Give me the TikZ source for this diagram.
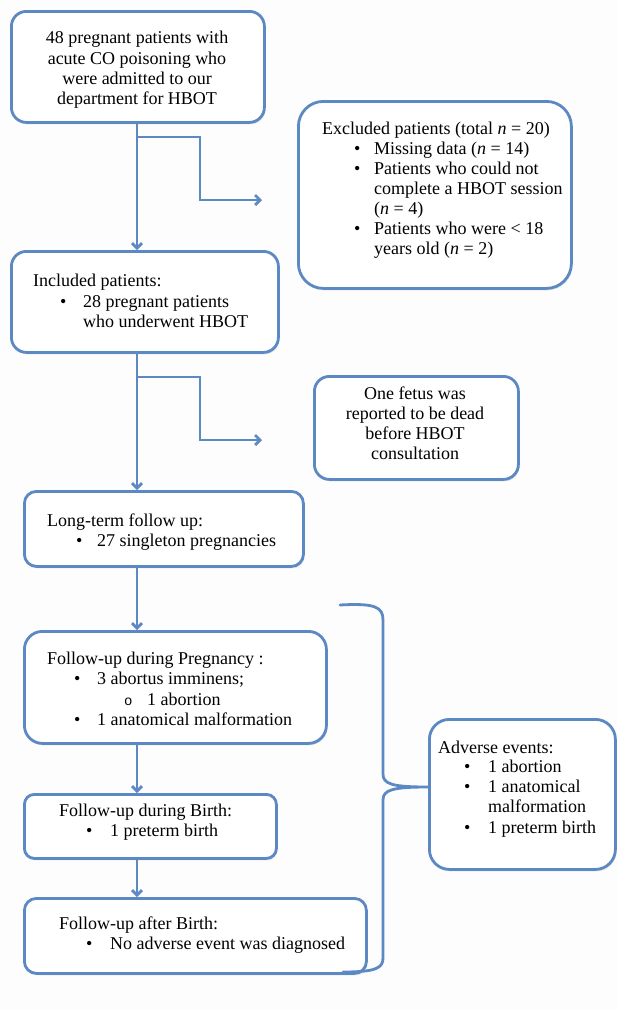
\documentclass[tikz,border=0pt]{standalone}
\usepackage{fontspec}
\setmainfont{Liberation Serif}
\newfontfamily\monof{Liberation Mono}
\usetikzlibrary{arrows.meta,shadows}
\definecolor{bl}{RGB}{92,136,196}
\definecolor{bg}{RGB}{253,253,253}
\newcommand\Lbox[6]{\node[box,rounded corners=#6pt,minimum width=#4pt,minimum height=#5pt,anchor=north west] (#1) at (#2,#3) {};}
\newcommand\Lline[4]{\node[ln] (#1) at (#2,#3) {#4};}
\newcommand\Cline[4]{\node[cl] (#1) at (#2,#3) {#4};}
\newcommand\Bul{\textbullet}
\newcommand\Sub{{\monof\fontsize{14}{14}\selectfont o}}
\begin{document}
\begin{tikzpicture}[x=1pt,y=-1pt,
  box/.style={draw=bl,line width=2.8pt,fill=white,
    drop shadow={shadow xshift=1pt,shadow yshift=-2pt,opacity=0.2}},
  ln/.style={anchor=base west,inner sep=0pt,font=\fontsize{18}{20}\selectfont},
  cl/.style={anchor=base,inner sep=0pt,font=\fontsize{18}{20}\selectfont},
  arr/.style={draw=bl,line width=2.8pt,-{Straight Barb[length=5pt,width=10pt]}},
  con/.style={draw=bl,line width=2.8pt,line cap=round,line join=round}]
\fill[bg] (0,0) rectangle (617,1010);
\useasboundingbox (0,0) rectangle (617,1010);

% boxes
\Lbox{top}{10}{10}{253}{111}{15}
\Lbox{exc}{297}{100}{273}{187}{25}
\Lbox{inc}{10}{250}{267}{101}{15}
\Lbox{fet}{313}{375}{204}{103}{15}
\Lbox{lt}{23}{490}{279}{75}{12}
\Lbox{prg}{23}{630}{302}{112}{18}
\Lbox{brt}{23}{793}{252}{64}{10}
\Lbox{aft}{23}{897}{342}{75}{12}
\Lbox{adv}{428}{718}{186}{150}{20}

% top box text
\Cline{t1}{137}{43}{48 pregnant patients with}
\Cline{t2}{137}{64}{acute CO poisoning who}
\Cline{t3}{137}{84}{were admitted to our}
\Cline{t4}{137}{104}{department for HBOT}

% excluded
\Lline{e0}{322}{134}{Excluded patients (total \textit{n} = 20)}
\Lline{e1b}{354}{154}{\Bul}
\Lline{e1}{374}{154}{Missing data (\textit{n} = 14)}
\Lline{e2b}{354}{174}{\Bul}
\Lline{e2}{374}{174}{Patients who could not}
\Lline{e3}{374}{194}{complete a HBOT session}
\Lline{e4}{374}{214}{(\textit{n} = 4)}
\Lline{e5b}{354}{234}{\Bul}
\Lline{e5}{374}{234}{Patients who were < 18}
\Lline{e6}{374}{254}{years old (\textit{n} = 2)}

% included
\Lline{i0}{33}{286}{Included patients:}
\Lline{i1b}{60}{307}{\Bul}
\Lline{i1}{83}{307}{28 pregnant patients}
\Lline{i2}{83}{327}{who underwent HBOT}

% fetus
\Cline{f1}{415}{399}{One fetus was}
\Cline{f2}{415}{419}{reported to be dead}
\Cline{f3}{415}{439}{before HBOT}
\Cline{f4}{415}{459}{consultation}

% long-term
\Lline{l0}{47}{526}{Long-term follow up:}
\Lline{l1b}{76}{546}{\Bul}
\Lline{l1}{97}{546}{27 singleton pregnancies}

% pregnancy
\Lline{p0}{47}{664}{Follow-up during Pregnancy :}
\Lline{p1b}{74}{684}{\Bul}
\Lline{p1}{97}{684}{3 abortus imminens;}
\Lline{p2b}{124}{705}{\Sub}
\Lline{p2}{147}{705}{1 abortion}
\Lline{p3b}{74}{725}{\Bul}
\Lline{p3}{97}{725}{1 anatomical malformation}

% birth
\Lline{b0}{59}{816}{Follow-up during Birth:}
\Lline{b1b}{86}{836}{\Bul}
\Lline{b1}{110}{836}{1 preterm birth}

% after
\Lline{a0}{59}{929}{Follow-up after Birth:}
\Lline{a1b}{86}{949}{\Bul}
\Lline{a1}{110}{949}{No adverse event was diagnosed}

% adverse
\Lline{v0}{438}{753}{Adverse events:}
\Lline{v1b}{464}{772}{\Bul}
\Lline{v1}{488}{772}{1 abortion}
\Lline{v2b}{464}{792}{\Bul}
\Lline{v2}{488}{792}{1 anatomical}
\Lline{v3}{488}{812}{malformation}
\Lline{v4b}{464}{833}{\Bul}
\Lline{v4}{488}{833}{1 preterm birth}

% main spine arrows
\coordinate (sp) at (137,0);
\draw[arr] (sp |- top.south) -- (sp |- inc.north);
\draw[arr] (sp |- inc.south) -- (sp |- lt.north);
\draw[arr] (sp |- lt.south) -- (sp |- prg.north);
\draw[arr] (sp |- prg.south) -- (sp |- brt.north);
\draw[arr] (sp |- brt.south) -- (sp |- aft.north);

% side branches
\coordinate (b1) at (137,137);
\coordinate (x1) at (262,200);
\draw[arr] (b1) -- ++(63,0) -- ++(0,63) -- (x1);
\coordinate (b2) at (137,377);
\coordinate (x2) at (262,440);
\draw[arr] (b2) -- ++(63,0) -- ++(0,63) -- (x2);

% brace
\coordinate (bt) at (340,605);
\coordinate (bb) at (343,972);
\coordinate (tip) at (428,787);
\draw[con] (bt) .. controls (375,603) and (383,607) .. (383,620)
  -- (383,774) .. controls (383,784) and (392,787) .. (tip)
  .. controls (392,787) and (383,790) .. (383,800)
  -- (383,958) .. controls (383,968) and (376,972) .. (bb);
\end{tikzpicture}
\end{document}
